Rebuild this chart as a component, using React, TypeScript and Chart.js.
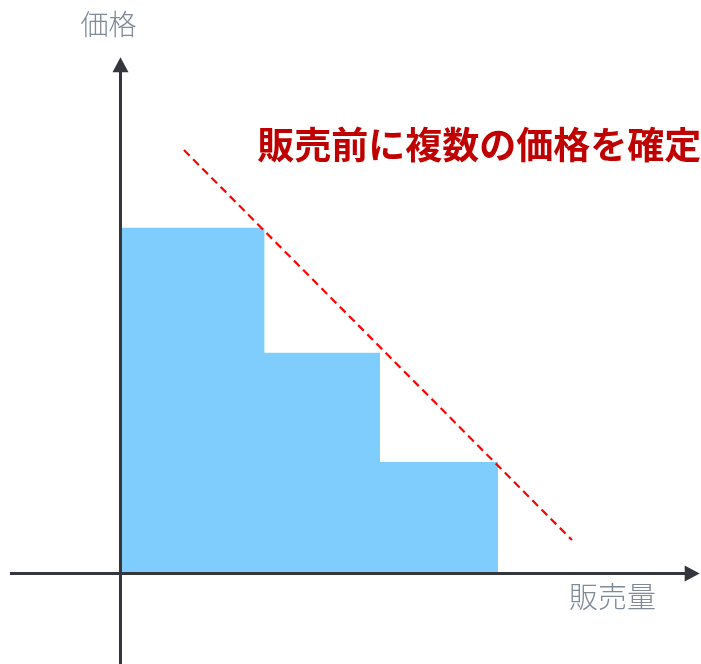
import React, { useEffect, useRef } from "react";
import { Chart, registerables } from "chart.js";

Chart.register(...registerables);

// Quantity breakpoints (start of each price tier, then the end of the last tier)
const quantityBreaks = [0, 12.2, 22, 32];
// Price charged in each tier
const tierPrices = [31, 19.8, 10];
// Underlying demand curve (two end points)
const demandQuantity = [5.38, 38.27];
const demandPrice = [37.98, 3.0];

const titleText = "販売前に複数の価格を確定";
const xAxisLabel = "販売量";
const yAxisLabel = "価格";

const W = 701;
const H = 664;

// Build the stepped outline of the price tiers
const stepPoints = quantityBreaks.map((q, i) => ({
  x: q,
  y: tierPrices[Math.min(i, tierPrices.length - 1)],
}));
const demandPoints = demandQuantity.map((q, i) => ({ x: q, y: demandPrice[i] }));

const axisColor = "#33373d";
const labelColor = "#7f8a96";

const axesPlugin = {
  id: "arrowAxes",
  afterDatasetsDraw(chart: any) {
    const { ctx, scales } = chart;
    const xs = scales.x;
    const ys = scales.y;
    const x0 = xs.getPixelForValue(0);
    const y0 = ys.getPixelForValue(0);
    const xLeft = xs.getPixelForValue(-9.37);
    const xTip = xs.getPixelForValue(49.1);
    const yBottom = chart.chartArea.bottom;
    const yTip = ys.getPixelForValue(46.3);
    const head = 15;
    const half = 8;

    ctx.save();
    ctx.strokeStyle = axisColor;
    ctx.fillStyle = axisColor;
    ctx.lineWidth = 3;
    ctx.lineCap = "butt";

    // horizontal axis
    ctx.beginPath();
    ctx.moveTo(xLeft, y0);
    ctx.lineTo(xTip - head + 1, y0);
    ctx.stroke();
    ctx.beginPath();
    ctx.moveTo(xTip, y0);
    ctx.lineTo(xTip - head, y0 - half);
    ctx.lineTo(xTip - head, y0 + half);
    ctx.closePath();
    ctx.fill();

    // vertical axis
    ctx.beginPath();
    ctx.moveTo(x0, yBottom);
    ctx.lineTo(x0, yTip + head - 1);
    ctx.stroke();
    ctx.beginPath();
    ctx.moveTo(x0, yTip);
    ctx.lineTo(x0 - half, yTip + head);
    ctx.lineTo(x0 + half, yTip + head);
    ctx.closePath();
    ctx.fill();

    // axis titles
    ctx.fillStyle = labelColor;
    ctx.textAlign = "center";
    ctx.textBaseline = "middle";
    ctx.font = '300 28px "Noto Sans CJK JP", "Noto Sans", sans-serif';
    ctx.fillText(yAxisLabel, x0 - 12, 24);
    ctx.font = '300 29px "Noto Sans CJK JP", "Noto Sans", sans-serif';
    ctx.fillText(xAxisLabel, xs.getPixelForValue(41.7), y0 + 23);

    // headline
    ctx.fillStyle = "#c00000";
    ctx.textAlign = "left";
    ctx.font = 'bold 37px "Noto Sans CJK JP", "Noto Sans", sans-serif';
    ctx.fillText(titleText, xs.getPixelForValue(11.6), ys.getPixelForValue(38.4));
    ctx.restore();
  },
};

export default function App() {
  const canvasRef = useRef<HTMLCanvasElement | null>(null);

  useEffect(() => {
    document.body.style.margin = "0";
    const canvas = canvasRef.current;
    if (!canvas) return;
    const chart = new Chart(canvas, {
      type: "scatter",
      data: {
        datasets: [
          {
            label: "価格帯",
            data: stepPoints,
            showLine: true,
            stepped: "before",
            fill: "origin",
            backgroundColor: "#7fcdfd",
            borderWidth: 0,
            borderColor: "rgba(0,0,0,0)",
            pointRadius: 0,
            order: 2,
          } as any,
          {
            label: "需要",
            data: demandPoints,
            showLine: true,
            fill: false,
            borderColor: "#ff0000",
            borderWidth: 2.2,
            borderDash: [8, 5],
            pointRadius: 0,
            order: 1,
          } as any,
        ],
      },
      options: {
        responsive: false,
        animation: false,
        devicePixelRatio: 1,
        layout: { padding: 0 },
        plugins: {
          legend: { display: false },
          tooltip: { enabled: false },
          title: { display: false },
        },
        scales: {
          x: { type: "linear", display: false, min: -10.214, max: 49.21 },
          y: { type: "linear", display: false, min: -8.117, max: 51.435 },
        },
      },
      plugins: [axesPlugin],
    });
    return () => chart.destroy();
  }, []);

  return (
    <div style={{ position: "fixed", left: 0, top: 0, width: W, height: H, background: "#fff" }}>
      <canvas ref={canvasRef} width={W} height={H} style={{ display: "block" }} />
    </div>
  );
}
